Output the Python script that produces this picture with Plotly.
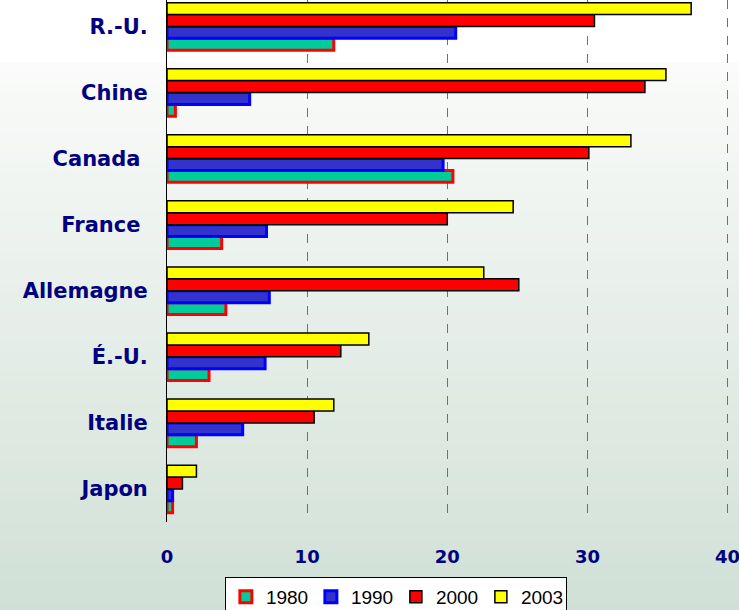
import plotly.graph_objects as go

countries = ["Japon", "Italie", "É.-U.", "Allemagne", "France\u00a0", "Canada\u00a0", "Chine", "R.-U."]
years = ["1980", "1990", "2000", "2003"]
v1980 = [0.4, 2.1, 3.0, 4.2, 3.9, 20.4, 0.6, 11.9]
v1990 = [0.4, 5.4, 7.0, 7.3, 7.1, 19.7, 5.9, 20.6]
v2000 = [1.1, 10.5, 12.4, 25.1, 20.0, 30.1, 34.1, 30.5]
v2003 = [2.1, 11.9, 14.4, 22.6, 24.7, 33.1, 35.6, 37.4]
x_ticks = [0, 10, 20, 30, 40]

series = [v1980, v1990, v2000, v2003]
fills = ["#00CC99", "#3333CC", "#FF0000", "#FFFF00"]
borders = ["#FF0000", "#0000FF", "#000000", "#000000"]
bwidths = [3, 3, 1.5, 1.5]

fig = go.Figure()
for name, vals, fc, bc, bw in zip(years, series, fills, borders, bwidths):
    fig.add_trace(go.Bar(
        y=countries, x=vals, name=name, orientation="h",
        marker=dict(color=fc, line=dict(color=bc, width=bw)),
    ))

# background gradient (page decoration)
W, H = 739, 610
mt, mb = 0, 88
ph = H - mt - mb
shapes = []
shapes.append(dict(type="rect", xref="paper", yref="paper", x0=-1, x1=2,
                   y0=(ph - 62) / ph, y1=1.5, fillcolor="#FFFFFF",
                   line=dict(width=0), layer="below"))
top = (250, 251, 250)
bot = (208, 224, 214)
p0, p1 = 62, 612
n = 55
for i in range(n):
    a = p0 + (p1 - p0) * i / n
    b = p0 + (p1 - p0) * (i + 1) / n
    t = (i + 0.5) / n
    c = tuple(round(top[k] + (bot[k] - top[k]) * t) for k in range(3))
    shapes.append(dict(type="rect", xref="paper", yref="paper", x0=-1, x1=2,
                       y0=(ph - b) / ph - 0.001, y1=(ph - a) / ph,
                       fillcolor="rgb(%d,%d,%d)" % c, line=dict(width=0), layer="below"))

fig.update_layout(
    width=W, height=H,
    margin=dict(l=167, r=10, t=mt, b=mb, autoexpand=False),
    paper_bgcolor="#FFFFFF",
    plot_bgcolor="rgba(0,0,0,0)",
    barmode="group", bargap=0.28, bargroupgap=0,
    shapes=shapes,
    showlegend=True,
    legend=dict(orientation="h", x=0.103, y=(ph - 577) / ph, xanchor="left", yanchor="top",
                bgcolor="#FFFFFF", bordercolor="#000000", borderwidth=1,
                font=dict(family="Liberation Sans, Arial", size=19, color="#000000"),
                itemwidth=30, entrywidth=40, entrywidthmode="pixels", traceorder="normal"),
    xaxis=dict(range=[0, 40.1], tickvals=x_ticks, ticktext=[str(v) for v in x_ticks],
               showgrid=True, gridcolor="#707070", griddash="dash", gridwidth=1.2,
               zeroline=False, ticks="", ticklabelstandoff=22, ticklabeloverflow="allow",
               automargin=False,
               tickfont=dict(family="DejaVu Sans", size=18, color="#000080", weight="bold")),
    yaxis=dict(range=[-0.5, 7.4], showgrid=False, zeroline=False,
               showline=True, linecolor="#000000", linewidth=1,
               ticks="", ticklabelstandoff=14, automargin=False,
               tickfont=dict(family="DejaVu Sans", size=21, color="#000080", weight="bold")),
)

fig.write_html("out.html", config={"displayModeBar": False},
               post_script="document.body.style.margin='0px';document.body.style.overflow='hidden';")
